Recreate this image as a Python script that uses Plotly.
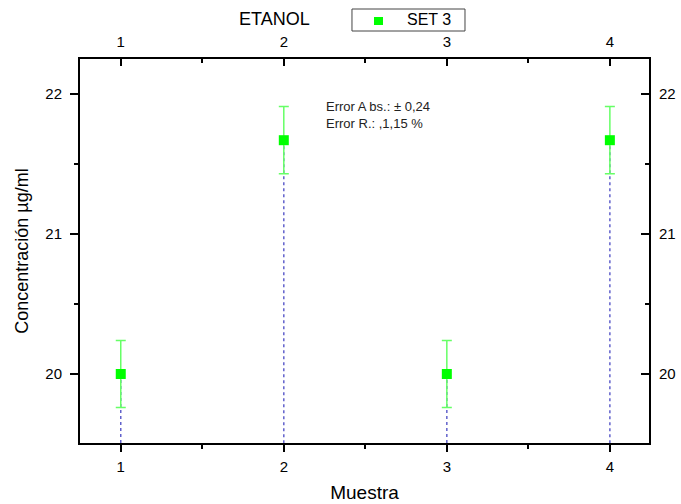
import plotly.graph_objects as go

# Sample data: ethanol concentration per sample (SET 3)
muestras = [1, 2, 3, 4]
concentracion = [20.0, 21.67, 20.0, 21.67]
error_abs = [0.24, 0.24, 0.24, 0.24]

x_range = [0.75, 4.24]
y_range = [19.507, 22.25]

fig = go.Figure()

# dotted drop lines from each point down to the bottom axis
drop_x, drop_y = [], []
for xv, yv in zip(muestras, concentracion):
    drop_x += [xv, xv, None]
    drop_y += [yv, y_range[0], None]
fig.add_trace(go.Scatter(
    x=drop_x, y=drop_y, mode="lines",
    line=dict(color="#6262cc", width=1.5, dash="dot"),
    showlegend=False, hoverinfo="skip", cliponaxis=True,
))

fig.add_trace(go.Scatter(
    x=muestras, y=concentracion, mode="markers", name="SET 3",
    marker=dict(symbol="square", size=10, color="#00ff00",
                line=dict(width=0)),
    error_y=dict(type="data", array=error_abs, visible=True,
                 color="#66ff66", thickness=1.5, width=5),
    showlegend=False,
))

# invisible trace to anchor the mirrored top/right axes
fig.add_trace(go.Scatter(x=muestras, y=concentracion, xaxis="x2", yaxis="y2",
                         mode="markers", marker=dict(opacity=0),
                         showlegend=False, hoverinfo="skip"))

font = dict(family="Liberation Sans, Arial, sans-serif", color="black")
tick_font = dict(family="Liberation Sans, Arial, sans-serif", size=15, color="black")

common = dict(showline=True, linecolor="black", linewidth=2, showgrid=False,
              zeroline=False, tickfont=tick_font, tickwidth=1.5,
              tickcolor="black")

fig.update_layout(
    width=681, height=504,
    margin=dict(l=80, r=32, t=59, b=61, autoexpand=False),
    paper_bgcolor="white", plot_bgcolor="white",
    font=font,
    xaxis=dict(range=x_range, tickmode="array", tickvals=[1, 2, 3, 4],
               ticks="outside", ticklen=7, ticklabelstandoff=2,
               minor=dict(tickvals=[1.5, 2.5, 3.5], ticks="outside", ticklen=4,
                          tickwidth=1.5, tickcolor="black"),
               title=dict(text="Muestra", font=dict(size=19), standoff=12),
               **common),
    yaxis=dict(range=y_range, tickmode="array", tickvals=[20, 21, 22],
               ticks="outside", ticklen=8, ticklabelstandoff=5,
               minor=dict(tickvals=[19.5, 20.5, 21.5], ticks="outside", ticklen=4,
                          tickwidth=1.5, tickcolor="black"),
               title=dict(text="Concentración µg/ml", font=dict(size=18), standoff=12),
               **common),
    xaxis2=dict(range=x_range, overlaying="x", side="top", anchor="y2",
                tickmode="array", tickvals=[1, 2, 3, 4], ticks="inside", ticklen=7,
                ticklabelstandoff=4,
                minor=dict(tickvals=[1.5, 2.5, 3.5], ticks="inside", ticklen=4,
                           tickwidth=1.5, tickcolor="black"),
                **common),
    yaxis2=dict(range=y_range, overlaying="y", side="right", anchor="x2",
                tickmode="array", tickvals=[20, 21, 22], ticks="inside", ticklen=8,
                ticklabelstandoff=5,
                minor=dict(tickvals=[19.5, 20.5, 21.5], ticks="inside", ticklen=4,
                           tickwidth=1.5, tickcolor="black"),
                **common),
    showlegend=False,
)

# legend box for SET 3
fig.add_shape(type="rect", xref="paper", yref="paper",
              x0=0.478, x1=0.6766, y0=1.0729, y1=1.1302,
              line=dict(color="#444444", width=1), fillcolor="white")
fig.add_shape(type="rect", xref="paper", yref="paper",
              x0=0.5167, x1=0.5325, y0=1.0885, y1=1.1094,
              line=dict(width=0), fillcolor="#00ff00")
fig.add_annotation(text="SET 3", xref="paper", yref="paper", x=0.5712, y=1.1016,
                   xanchor="left", yanchor="middle", showarrow=False,
                   font=dict(size=16, color="black"))

fig.add_annotation(text="ETANOL", xref="paper", yref="paper", x=0.341, y=1.103,
                   xanchor="center", yanchor="middle", showarrow=False,
                   font=dict(size=18, color="black"))

fig.add_annotation(text="Error A bs.: ± 0,24<br>Error R.: ,1,15 %",
                   xref="paper", yref="paper", x=0.428, y=0.9,
                   xanchor="left", yanchor="top", align="left", showarrow=False,
                   font=dict(size=13, color="#222222"))

fig.write_html("out.html")
